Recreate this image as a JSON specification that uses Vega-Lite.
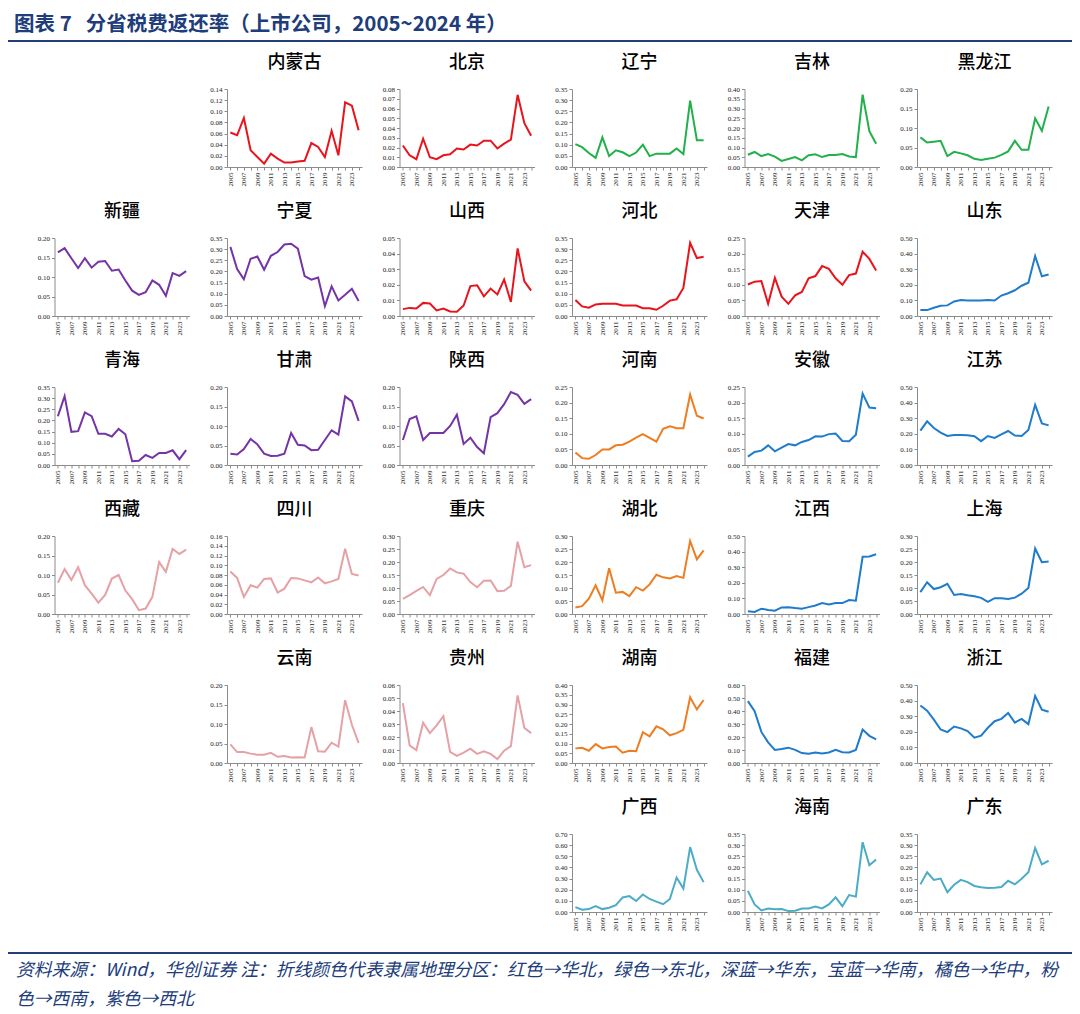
{
"$schema":"https://vega.github.io/schema/vega-lite/v6.json",
"background":"white",
"padding":{"left":8,"top":14,"right":5,"bottom":2},
"columns":1,
"spacing":8,
"datasets":{
"nmg":[{"year":"2005","v":0.062},{"year":"2006","v":0.057},{"year":"2007","v":0.088},{"year":"2008","v":0.030},{"year":"2009","v":0.018},{"year":"2010","v":0.006},{"year":"2011","v":0.024},{"year":"2012","v":0.015},{"year":"2013","v":0.008},{"year":"2014","v":0.008},{"year":"2015","v":0.010},{"year":"2016","v":0.011},{"year":"2017","v":0.043},{"year":"2018","v":0.036},{"year":"2019","v":0.018},{"year":"2020","v":0.065},{"year":"2021","v":0.021},{"year":"2022","v":0.116},{"year":"2023","v":0.110},{"year":"2024","v":0.066}],
"bj":[{"year":"2005","v":0.022},{"year":"2006","v":0.012},{"year":"2007","v":0.008},{"year":"2008","v":0.029},{"year":"2009","v":0.010},{"year":"2010","v":0.008},{"year":"2011","v":0.012},{"year":"2012","v":0.013},{"year":"2013","v":0.019},{"year":"2014","v":0.018},{"year":"2015","v":0.023},{"year":"2016","v":0.022},{"year":"2017","v":0.027},{"year":"2018","v":0.027},{"year":"2019","v":0.019},{"year":"2020","v":0.024},{"year":"2021","v":0.028},{"year":"2022","v":0.074},{"year":"2023","v":0.045},{"year":"2024","v":0.032}],
"ln":[{"year":"2005","v":0.103},{"year":"2006","v":0.089},{"year":"2007","v":0.063},{"year":"2008","v":0.041},{"year":"2009","v":0.133},{"year":"2010","v":0.049},{"year":"2011","v":0.075},{"year":"2012","v":0.066},{"year":"2013","v":0.049},{"year":"2014","v":0.065},{"year":"2015","v":0.100},{"year":"2016","v":0.049},{"year":"2017","v":0.060},{"year":"2018","v":0.060},{"year":"2019","v":0.060},{"year":"2020","v":0.083},{"year":"2021","v":0.058},{"year":"2022","v":0.298},{"year":"2023","v":0.120},{"year":"2024","v":0.120}],
"jl":[{"year":"2005","v":0.063},{"year":"2006","v":0.077},{"year":"2007","v":0.056},{"year":"2008","v":0.066},{"year":"2009","v":0.053},{"year":"2010","v":0.031},{"year":"2011","v":0.041},{"year":"2012","v":0.051},{"year":"2013","v":0.034},{"year":"2014","v":0.060},{"year":"2015","v":0.065},{"year":"2016","v":0.051},{"year":"2017","v":0.061},{"year":"2018","v":0.061},{"year":"2019","v":0.066},{"year":"2020","v":0.054},{"year":"2021","v":0.051},{"year":"2022","v":0.371},{"year":"2023","v":0.184},{"year":"2024","v":0.119}],
"hlj":[{"year":"2005","v":0.076},{"year":"2006","v":0.063},{"year":"2007","v":0.065},{"year":"2008","v":0.067},{"year":"2009","v":0.028},{"year":"2010","v":0.039},{"year":"2011","v":0.035},{"year":"2012","v":0.030},{"year":"2013","v":0.021},{"year":"2014","v":0.018},{"year":"2015","v":0.021},{"year":"2016","v":0.024},{"year":"2017","v":0.031},{"year":"2018","v":0.040},{"year":"2019","v":0.067},{"year":"2020","v":0.044},{"year":"2021","v":0.044},{"year":"2022","v":0.125},{"year":"2023","v":0.093},{"year":"2024","v":0.155}],
"xj":[{"year":"2005","v":0.163},{"year":"2006","v":0.174},{"year":"2007","v":0.148},{"year":"2008","v":0.123},{"year":"2009","v":0.148},{"year":"2010","v":0.124},{"year":"2011","v":0.139},{"year":"2012","v":0.141},{"year":"2013","v":0.116},{"year":"2014","v":0.119},{"year":"2015","v":0.091},{"year":"2016","v":0.065},{"year":"2017","v":0.054},{"year":"2018","v":0.061},{"year":"2019","v":0.091},{"year":"2020","v":0.080},{"year":"2021","v":0.052},{"year":"2022","v":0.110},{"year":"2023","v":0.103},{"year":"2024","v":0.115}],
"nx":[{"year":"2005","v":0.310},{"year":"2006","v":0.211},{"year":"2007","v":0.165},{"year":"2008","v":0.257},{"year":"2009","v":0.267},{"year":"2010","v":0.208},{"year":"2011","v":0.270},{"year":"2012","v":0.287},{"year":"2013","v":0.321},{"year":"2014","v":0.324},{"year":"2015","v":0.302},{"year":"2016","v":0.179},{"year":"2017","v":0.163},{"year":"2018","v":0.173},{"year":"2019","v":0.044},{"year":"2020","v":0.133},{"year":"2021","v":0.070},{"year":"2022","v":0.095},{"year":"2023","v":0.122},{"year":"2024","v":0.067}],
"sx":[{"year":"2005","v":0.0044},{"year":"2006","v":0.0052},{"year":"2007","v":0.0048},{"year":"2008","v":0.0084},{"year":"2009","v":0.0080},{"year":"2010","v":0.0036},{"year":"2011","v":0.0048},{"year":"2012","v":0.0029},{"year":"2013","v":0.0027},{"year":"2014","v":0.0067},{"year":"2015","v":0.0192},{"year":"2016","v":0.0197},{"year":"2017","v":0.0126},{"year":"2018","v":0.0176},{"year":"2019","v":0.0138},{"year":"2020","v":0.0234},{"year":"2021","v":0.0090},{"year":"2022","v":0.0433},{"year":"2023","v":0.0222},{"year":"2024","v":0.0163}],
"hb":[{"year":"2005","v":0.072},{"year":"2006","v":0.043},{"year":"2007","v":0.037},{"year":"2008","v":0.052},{"year":"2009","v":0.055},{"year":"2010","v":0.055},{"year":"2011","v":0.055},{"year":"2012","v":0.047},{"year":"2013","v":0.047},{"year":"2014","v":0.047},{"year":"2015","v":0.035},{"year":"2016","v":0.035},{"year":"2017","v":0.028},{"year":"2018","v":0.046},{"year":"2019","v":0.069},{"year":"2020","v":0.075},{"year":"2021","v":0.126},{"year":"2022","v":0.328},{"year":"2023","v":0.260},{"year":"2024","v":0.266}],
"tj":[{"year":"2005","v":0.101},{"year":"2006","v":0.110},{"year":"2007","v":0.112},{"year":"2008","v":0.039},{"year":"2009","v":0.122},{"year":"2010","v":0.062},{"year":"2011","v":0.039},{"year":"2012","v":0.066},{"year":"2013","v":0.077},{"year":"2014","v":0.121},{"year":"2015","v":0.128},{"year":"2016","v":0.160},{"year":"2017","v":0.151},{"year":"2018","v":0.121},{"year":"2019","v":0.100},{"year":"2020","v":0.131},{"year":"2021","v":0.136},{"year":"2022","v":0.206},{"year":"2023","v":0.183},{"year":"2024","v":0.146}],
"sd":[{"year":"2005","v":0.038},{"year":"2006","v":0.038},{"year":"2007","v":0.053},{"year":"2008","v":0.065},{"year":"2009","v":0.068},{"year":"2010","v":0.093},{"year":"2011","v":0.103},{"year":"2012","v":0.099},{"year":"2013","v":0.099},{"year":"2014","v":0.099},{"year":"2015","v":0.103},{"year":"2016","v":0.099},{"year":"2017","v":0.131},{"year":"2018","v":0.146},{"year":"2019","v":0.165},{"year":"2020","v":0.194},{"year":"2021","v":0.213},{"year":"2022","v":0.384},{"year":"2023","v":0.255},{"year":"2024","v":0.266}],
"qh":[{"year":"2005","v":0.219},{"year":"2006","v":0.309},{"year":"2007","v":0.149},{"year":"2008","v":0.152},{"year":"2009","v":0.236},{"year":"2010","v":0.219},{"year":"2011","v":0.140},{"year":"2012","v":0.140},{"year":"2013","v":0.128},{"year":"2014","v":0.162},{"year":"2015","v":0.138},{"year":"2016","v":0.017},{"year":"2017","v":0.019},{"year":"2018","v":0.045},{"year":"2019","v":0.032},{"year":"2020","v":0.054},{"year":"2021","v":0.054},{"year":"2022","v":0.066},{"year":"2023","v":0.026},{"year":"2024","v":0.067}],
"gs":[{"year":"2005","v":0.029},{"year":"2006","v":0.027},{"year":"2007","v":0.041},{"year":"2008","v":0.067},{"year":"2009","v":0.053},{"year":"2010","v":0.029},{"year":"2011","v":0.023},{"year":"2012","v":0.024},{"year":"2013","v":0.029},{"year":"2014","v":0.082},{"year":"2015","v":0.052},{"year":"2016","v":0.050},{"year":"2017","v":0.038},{"year":"2018","v":0.039},{"year":"2019","v":0.064},{"year":"2020","v":0.089},{"year":"2021","v":0.078},{"year":"2022","v":0.176},{"year":"2023","v":0.163},{"year":"2024","v":0.113}],
"shx":[{"year":"2005","v":0.064},{"year":"2006","v":0.118},{"year":"2007","v":0.125},{"year":"2008","v":0.064},{"year":"2009","v":0.082},{"year":"2010","v":0.082},{"year":"2011","v":0.082},{"year":"2012","v":0.100},{"year":"2013","v":0.129},{"year":"2014","v":0.054},{"year":"2015","v":0.070},{"year":"2016","v":0.046},{"year":"2017","v":0.030},{"year":"2018","v":0.123},{"year":"2019","v":0.133},{"year":"2020","v":0.156},{"year":"2021","v":0.187},{"year":"2022","v":0.180},{"year":"2023","v":0.157},{"year":"2024","v":0.169}],
"hn":[{"year":"2005","v":0.040},{"year":"2006","v":0.022},{"year":"2007","v":0.020},{"year":"2008","v":0.032},{"year":"2009","v":0.050},{"year":"2010","v":0.050},{"year":"2011","v":0.063},{"year":"2012","v":0.065},{"year":"2013","v":0.075},{"year":"2014","v":0.088},{"year":"2015","v":0.099},{"year":"2016","v":0.087},{"year":"2017","v":0.075},{"year":"2018","v":0.116},{"year":"2019","v":0.124},{"year":"2020","v":0.118},{"year":"2021","v":0.118},{"year":"2022","v":0.226},{"year":"2023","v":0.158},{"year":"2024","v":0.149}],
"ah":[{"year":"2005","v":0.027},{"year":"2006","v":0.042},{"year":"2007","v":0.046},{"year":"2008","v":0.063},{"year":"2009","v":0.044},{"year":"2010","v":0.056},{"year":"2011","v":0.067},{"year":"2012","v":0.063},{"year":"2013","v":0.074},{"year":"2014","v":0.080},{"year":"2015","v":0.092},{"year":"2016","v":0.091},{"year":"2017","v":0.099},{"year":"2018","v":0.101},{"year":"2019","v":0.077},{"year":"2020","v":0.076},{"year":"2021","v":0.097},{"year":"2022","v":0.229},{"year":"2023","v":0.184},{"year":"2024","v":0.182}],
"js":[{"year":"2005","v":0.220},{"year":"2006","v":0.280},{"year":"2007","v":0.237},{"year":"2008","v":0.208},{"year":"2009","v":0.186},{"year":"2010","v":0.193},{"year":"2011","v":0.193},{"year":"2012","v":0.191},{"year":"2013","v":0.184},{"year":"2014","v":0.153},{"year":"2015","v":0.186},{"year":"2016","v":0.174},{"year":"2017","v":0.197},{"year":"2018","v":0.218},{"year":"2019","v":0.189},{"year":"2020","v":0.186},{"year":"2021","v":0.225},{"year":"2022","v":0.386},{"year":"2023","v":0.267},{"year":"2024","v":0.254}],
"xz":[{"year":"2005","v":0.080},{"year":"2006","v":0.115},{"year":"2007","v":0.087},{"year":"2008","v":0.120},{"year":"2009","v":0.074},{"year":"2010","v":0.052},{"year":"2011","v":0.029},{"year":"2012","v":0.049},{"year":"2013","v":0.091},{"year":"2014","v":0.100},{"year":"2015","v":0.060},{"year":"2016","v":0.038},{"year":"2017","v":0.010},{"year":"2018","v":0.014},{"year":"2019","v":0.044},{"year":"2020","v":0.133},{"year":"2021","v":0.108},{"year":"2022","v":0.167},{"year":"2023","v":0.154},{"year":"2024","v":0.165}],
"sc":[{"year":"2005","v":0.087},{"year":"2006","v":0.074},{"year":"2007","v":0.035},{"year":"2008","v":0.059},{"year":"2009","v":0.054},{"year":"2010","v":0.072},{"year":"2011","v":0.073},{"year":"2012","v":0.044},{"year":"2013","v":0.052},{"year":"2014","v":0.074},{"year":"2015","v":0.073},{"year":"2016","v":0.069},{"year":"2017","v":0.065},{"year":"2018","v":0.075},{"year":"2019","v":0.063},{"year":"2020","v":0.067},{"year":"2021","v":0.072},{"year":"2022","v":0.134},{"year":"2023","v":0.082},{"year":"2024","v":0.079}],
"cq":[{"year":"2005","v":0.058},{"year":"2006","v":0.073},{"year":"2007","v":0.089},{"year":"2008","v":0.104},{"year":"2009","v":0.073},{"year":"2010","v":0.135},{"year":"2011","v":0.150},{"year":"2012","v":0.175},{"year":"2013","v":0.160},{"year":"2014","v":0.155},{"year":"2015","v":0.123},{"year":"2016","v":0.103},{"year":"2017","v":0.128},{"year":"2018","v":0.129},{"year":"2019","v":0.088},{"year":"2020","v":0.089},{"year":"2021","v":0.108},{"year":"2022","v":0.278},{"year":"2023","v":0.180},{"year":"2024","v":0.188}],
"hub":[{"year":"2005","v":0.025},{"year":"2006","v":0.030},{"year":"2007","v":0.059},{"year":"2008","v":0.110},{"year":"2009","v":0.053},{"year":"2010","v":0.176},{"year":"2011","v":0.082},{"year":"2012","v":0.085},{"year":"2013","v":0.069},{"year":"2014","v":0.103},{"year":"2015","v":0.090},{"year":"2016","v":0.114},{"year":"2017","v":0.151},{"year":"2018","v":0.141},{"year":"2019","v":0.137},{"year":"2020","v":0.146},{"year":"2021","v":0.139},{"year":"2022","v":0.281},{"year":"2023","v":0.210},{"year":"2024","v":0.245}],
"jx":[{"year":"2005","v":0.017},{"year":"2006","v":0.013},{"year":"2007","v":0.034},{"year":"2008","v":0.025},{"year":"2009","v":0.021},{"year":"2010","v":0.042},{"year":"2011","v":0.044},{"year":"2012","v":0.038},{"year":"2013","v":0.034},{"year":"2014","v":0.044},{"year":"2015","v":0.055},{"year":"2016","v":0.070},{"year":"2017","v":0.061},{"year":"2018","v":0.070},{"year":"2019","v":0.070},{"year":"2020","v":0.089},{"year":"2021","v":0.085},{"year":"2022","v":0.367},{"year":"2023","v":0.369},{"year":"2024","v":0.383}],
"sh":[{"year":"2005","v":0.084},{"year":"2006","v":0.122},{"year":"2007","v":0.096},{"year":"2008","v":0.103},{"year":"2009","v":0.116},{"year":"2010","v":0.073},{"year":"2011","v":0.077},{"year":"2012","v":0.072},{"year":"2013","v":0.068},{"year":"2014","v":0.062},{"year":"2015","v":0.047},{"year":"2016","v":0.061},{"year":"2017","v":0.061},{"year":"2018","v":0.058},{"year":"2019","v":0.063},{"year":"2020","v":0.078},{"year":"2021","v":0.100},{"year":"2022","v":0.252},{"year":"2023","v":0.199},{"year":"2024","v":0.202}],
"yn":[{"year":"2005","v":0.048},{"year":"2006","v":0.028},{"year":"2007","v":0.028},{"year":"2008","v":0.024},{"year":"2009","v":0.021},{"year":"2010","v":0.021},{"year":"2011","v":0.026},{"year":"2012","v":0.016},{"year":"2013","v":0.018},{"year":"2014","v":0.014},{"year":"2015","v":0.015},{"year":"2016","v":0.014},{"year":"2017","v":0.092},{"year":"2018","v":0.030},{"year":"2019","v":0.029},{"year":"2020","v":0.052},{"year":"2021","v":0.042},{"year":"2022","v":0.161},{"year":"2023","v":0.098},{"year":"2024","v":0.051}],
"gz":[{"year":"2005","v":0.046},{"year":"2006","v":0.0136},{"year":"2007","v":0.010},{"year":"2008","v":0.031},{"year":"2009","v":0.023},{"year":"2010","v":0.029},{"year":"2011","v":0.036},{"year":"2012","v":0.0085},{"year":"2013","v":0.0055},{"year":"2014","v":0.008},{"year":"2015","v":0.011},{"year":"2016","v":0.007},{"year":"2017","v":0.009},{"year":"2018","v":0.007},{"year":"2019","v":0.003},{"year":"2020","v":0.0095},{"year":"2021","v":0.013},{"year":"2022","v":0.052},{"year":"2023","v":0.027},{"year":"2024","v":0.023}],
"hun":[{"year":"2005","v":0.075},{"year":"2006","v":0.078},{"year":"2007","v":0.063},{"year":"2008","v":0.097},{"year":"2009","v":0.075},{"year":"2010","v":0.082},{"year":"2011","v":0.085},{"year":"2012","v":0.053},{"year":"2013","v":0.063},{"year":"2014","v":0.060},{"year":"2015","v":0.158},{"year":"2016","v":0.137},{"year":"2017","v":0.188},{"year":"2018","v":0.173},{"year":"2019","v":0.142},{"year":"2020","v":0.153},{"year":"2021","v":0.170},{"year":"2022","v":0.337},{"year":"2023","v":0.275},{"year":"2024","v":0.323}],
"fj":[{"year":"2005","v":0.476},{"year":"2006","v":0.398},{"year":"2007","v":0.239},{"year":"2008","v":0.159},{"year":"2009","v":0.101},{"year":"2010","v":0.108},{"year":"2011","v":0.118},{"year":"2012","v":0.101},{"year":"2013","v":0.076},{"year":"2014","v":0.071},{"year":"2015","v":0.081},{"year":"2016","v":0.073},{"year":"2017","v":0.081},{"year":"2018","v":0.101},{"year":"2019","v":0.083},{"year":"2020","v":0.081},{"year":"2021","v":0.101},{"year":"2022","v":0.257},{"year":"2023","v":0.209},{"year":"2024","v":0.181}],
"zj":[{"year":"2005","v":0.369},{"year":"2006","v":0.335},{"year":"2007","v":0.278},{"year":"2008","v":0.215},{"year":"2009","v":0.198},{"year":"2010","v":0.234},{"year":"2011","v":0.222},{"year":"2012","v":0.205},{"year":"2013","v":0.162},{"year":"2014","v":0.175},{"year":"2015","v":0.226},{"year":"2016","v":0.268},{"year":"2017","v":0.283},{"year":"2018","v":0.321},{"year":"2019","v":0.259},{"year":"2020","v":0.283},{"year":"2021","v":0.249},{"year":"2022","v":0.430},{"year":"2023","v":0.342},{"year":"2024","v":0.329}],
"gx":[{"year":"2005","v":0.044},{"year":"2006","v":0.020},{"year":"2007","v":0.026},{"year":"2008","v":0.052},{"year":"2009","v":0.026},{"year":"2010","v":0.038},{"year":"2011","v":0.061},{"year":"2012","v":0.131},{"year":"2013","v":0.143},{"year":"2014","v":0.099},{"year":"2015","v":0.157},{"year":"2016","v":0.117},{"year":"2017","v":0.093},{"year":"2018","v":0.070},{"year":"2019","v":0.117},{"year":"2020","v":0.309},{"year":"2021","v":0.210},{"year":"2022","v":0.583},{"year":"2023","v":0.379},{"year":"2024","v":0.268}],
"hain":[{"year":"2005","v":0.095},{"year":"2006","v":0.034},{"year":"2007","v":0.007},{"year":"2008","v":0.016},{"year":"2009","v":0.012},{"year":"2010","v":0.013},{"year":"2011","v":0.004},{"year":"2012","v":0.006},{"year":"2013","v":0.016},{"year":"2014","v":0.016},{"year":"2015","v":0.025},{"year":"2016","v":0.016},{"year":"2017","v":0.034},{"year":"2018","v":0.066},{"year":"2019","v":0.026},{"year":"2020","v":0.076},{"year":"2021","v":0.069},{"year":"2022","v":0.313},{"year":"2023","v":0.210},{"year":"2024","v":0.236}],
"gd":[{"year":"2005","v":0.124},{"year":"2006","v":0.178},{"year":"2007","v":0.144},{"year":"2008","v":0.150},{"year":"2009","v":0.089},{"year":"2010","v":0.122},{"year":"2011","v":0.144},{"year":"2012","v":0.134},{"year":"2013","v":0.117},{"year":"2014","v":0.111},{"year":"2015","v":0.108},{"year":"2016","v":0.109},{"year":"2017","v":0.112},{"year":"2018","v":0.140},{"year":"2019","v":0.124},{"year":"2020","v":0.149},{"year":"2021","v":0.178},{"year":"2022","v":0.287},{"year":"2023","v":0.214},{"year":"2024","v":0.230}]
},
"concat":[
{"width":1064,"height":2,"view":{"fill":"#203C7A","stroke":null},"title":{"text":"图表 7\u00a0\u00a0\u00a0分省税费返还率（上市公司，2005~2024 年）","anchor":"start","fontSize":20.5,"fontWeight":"bold","color":"#203C7A","offset":0,"dx":6},"data":{"values":[{}]},"mark":{"type":"text","text":""},"encoding":{}},
{"columns":7,"spacing":{"row":17,"column":12.5},"concat":[
{"width":9.5,"height":78,"data":{"values":[{}]},"mark":{"type":"text","text":""},"encoding":{}},
{"width":135,"height":78,"data":{"values":[{}]},"mark":{"type":"text","text":""},"encoding":{}},
{"title":"内蒙古","width":135,"height":78,"data":{"name":"nmg"},"mark":{"type":"line","color":"#E8141C"},"encoding":{"x":{"field":"year","type":"ordinal","axis":{"title":null}},"y":{"field":"v","type":"quantitative","scale":{"domain":[0,0.14],"nice":false},"axis":{"title":null,"values":[0,0.02,0.04,0.06,0.08,0.1,0.12,0.14]}}}},
{"title":"北京","width":135,"height":78,"data":{"name":"bj"},"mark":{"type":"line","color":"#E8141C"},"encoding":{"x":{"field":"year","type":"ordinal","axis":{"title":null}},"y":{"field":"v","type":"quantitative","scale":{"domain":[0,0.08],"nice":false},"axis":{"title":null,"values":[0,0.01,0.02,0.03,0.04,0.05,0.06,0.07,0.08]}}}},
{"title":"辽宁","width":135,"height":78,"data":{"name":"ln"},"mark":{"type":"line","color":"#22B04B"},"encoding":{"x":{"field":"year","type":"ordinal","axis":{"title":null}},"y":{"field":"v","type":"quantitative","scale":{"domain":[0,0.35],"nice":false},"axis":{"title":null,"values":[0,0.05,0.1,0.15,0.2,0.25,0.3,0.35]}}}},
{"title":"吉林","width":135,"height":78,"data":{"name":"jl"},"mark":{"type":"line","color":"#22B04B"},"encoding":{"x":{"field":"year","type":"ordinal","axis":{"title":null}},"y":{"field":"v","type":"quantitative","scale":{"domain":[0,0.4],"nice":false},"axis":{"title":null,"values":[0,0.05,0.1,0.15,0.2,0.25,0.3,0.35,0.4]}}}},
{"title":"黑龙江","width":135,"height":78,"data":{"name":"hlj"},"mark":{"type":"line","color":"#22B04B"},"encoding":{"x":{"field":"year","type":"ordinal","axis":{"title":null}},"y":{"field":"v","type":"quantitative","scale":{"domain":[0,0.2],"nice":false},"axis":{"title":null,"values":[0,0.05,0.1,0.15,0.2]}}}},
{"width":9.5,"height":78,"data":{"values":[{}]},"mark":{"type":"text","text":""},"encoding":{}},
{"title":"新疆","width":135,"height":78,"data":{"name":"xj"},"mark":{"type":"line","color":"#7434A6"},"encoding":{"x":{"field":"year","type":"ordinal","axis":{"title":null}},"y":{"field":"v","type":"quantitative","scale":{"domain":[0,0.2],"nice":false},"axis":{"title":null,"values":[0,0.05,0.1,0.15,0.2]}}}},
{"title":"宁夏","width":135,"height":78,"data":{"name":"nx"},"mark":{"type":"line","color":"#7434A6"},"encoding":{"x":{"field":"year","type":"ordinal","axis":{"title":null}},"y":{"field":"v","type":"quantitative","scale":{"domain":[0,0.35],"nice":false},"axis":{"title":null,"values":[0,0.05,0.1,0.15,0.2,0.25,0.3,0.35]}}}},
{"title":"山西","width":135,"height":78,"data":{"name":"sx"},"mark":{"type":"line","color":"#E8141C"},"encoding":{"x":{"field":"year","type":"ordinal","axis":{"title":null}},"y":{"field":"v","type":"quantitative","scale":{"domain":[0,0.05],"nice":false},"axis":{"title":null,"values":[0,0.01,0.02,0.03,0.04,0.05]}}}},
{"title":"河北","width":135,"height":78,"data":{"name":"hb"},"mark":{"type":"line","color":"#E8141C"},"encoding":{"x":{"field":"year","type":"ordinal","axis":{"title":null}},"y":{"field":"v","type":"quantitative","scale":{"domain":[0,0.35],"nice":false},"axis":{"title":null,"values":[0,0.05,0.1,0.15,0.2,0.25,0.3,0.35]}}}},
{"title":"天津","width":135,"height":78,"data":{"name":"tj"},"mark":{"type":"line","color":"#E8141C"},"encoding":{"x":{"field":"year","type":"ordinal","axis":{"title":null}},"y":{"field":"v","type":"quantitative","scale":{"domain":[0,0.25],"nice":false},"axis":{"title":null,"values":[0,0.05,0.1,0.15,0.2,0.25]}}}},
{"title":"山东","width":135,"height":78,"data":{"name":"sd"},"mark":{"type":"line","color":"#1F7BCB"},"encoding":{"x":{"field":"year","type":"ordinal","axis":{"title":null}},"y":{"field":"v","type":"quantitative","scale":{"domain":[0,0.5],"nice":false},"axis":{"title":null,"values":[0,0.1,0.2,0.3,0.4,0.5]}}}},
{"width":9.5,"height":78,"data":{"values":[{}]},"mark":{"type":"text","text":""},"encoding":{}},
{"title":"青海","width":135,"height":78,"data":{"name":"qh"},"mark":{"type":"line","color":"#7434A6"},"encoding":{"x":{"field":"year","type":"ordinal","axis":{"title":null}},"y":{"field":"v","type":"quantitative","scale":{"domain":[0,0.35],"nice":false},"axis":{"title":null,"values":[0,0.05,0.1,0.15,0.2,0.25,0.3,0.35]}}}},
{"title":"甘肃","width":135,"height":78,"data":{"name":"gs"},"mark":{"type":"line","color":"#7434A6"},"encoding":{"x":{"field":"year","type":"ordinal","axis":{"title":null}},"y":{"field":"v","type":"quantitative","scale":{"domain":[0,0.2],"nice":false},"axis":{"title":null,"values":[0,0.05,0.1,0.15,0.2]}}}},
{"title":"陕西","width":135,"height":78,"data":{"name":"shx"},"mark":{"type":"line","color":"#7434A6"},"encoding":{"x":{"field":"year","type":"ordinal","axis":{"title":null}},"y":{"field":"v","type":"quantitative","scale":{"domain":[0,0.2],"nice":false},"axis":{"title":null,"values":[0,0.05,0.1,0.15,0.2]}}}},
{"title":"河南","width":135,"height":78,"data":{"name":"hn"},"mark":{"type":"line","color":"#EE7D22"},"encoding":{"x":{"field":"year","type":"ordinal","axis":{"title":null}},"y":{"field":"v","type":"quantitative","scale":{"domain":[0,0.25],"nice":false},"axis":{"title":null,"values":[0,0.05,0.1,0.15,0.2,0.25]}}}},
{"title":"安徽","width":135,"height":78,"data":{"name":"ah"},"mark":{"type":"line","color":"#1F7BCB"},"encoding":{"x":{"field":"year","type":"ordinal","axis":{"title":null}},"y":{"field":"v","type":"quantitative","scale":{"domain":[0,0.25],"nice":false},"axis":{"title":null,"values":[0,0.05,0.1,0.15,0.2,0.25]}}}},
{"title":"江苏","width":135,"height":78,"data":{"name":"js"},"mark":{"type":"line","color":"#1F7BCB"},"encoding":{"x":{"field":"year","type":"ordinal","axis":{"title":null}},"y":{"field":"v","type":"quantitative","scale":{"domain":[0,0.5],"nice":false},"axis":{"title":null,"values":[0,0.1,0.2,0.3,0.4,0.5]}}}},
{"width":9.5,"height":78,"data":{"values":[{}]},"mark":{"type":"text","text":""},"encoding":{}},
{"title":"西藏","width":135,"height":78,"data":{"name":"xz"},"mark":{"type":"line","color":"#E6A1A6"},"encoding":{"x":{"field":"year","type":"ordinal","axis":{"title":null}},"y":{"field":"v","type":"quantitative","scale":{"domain":[0,0.2],"nice":false},"axis":{"title":null,"values":[0,0.05,0.1,0.15,0.2]}}}},
{"title":"四川","width":135,"height":78,"data":{"name":"sc"},"mark":{"type":"line","color":"#E6A1A6"},"encoding":{"x":{"field":"year","type":"ordinal","axis":{"title":null}},"y":{"field":"v","type":"quantitative","scale":{"domain":[0,0.16],"nice":false},"axis":{"title":null,"values":[0,0.02,0.04,0.06,0.08,0.1,0.12,0.14,0.16]}}}},
{"title":"重庆","width":135,"height":78,"data":{"name":"cq"},"mark":{"type":"line","color":"#E6A1A6"},"encoding":{"x":{"field":"year","type":"ordinal","axis":{"title":null}},"y":{"field":"v","type":"quantitative","scale":{"domain":[0,0.3],"nice":false},"axis":{"title":null,"values":[0,0.05,0.1,0.15,0.2,0.25,0.3]}}}},
{"title":"湖北","width":135,"height":78,"data":{"name":"hub"},"mark":{"type":"line","color":"#EE7D22"},"encoding":{"x":{"field":"year","type":"ordinal","axis":{"title":null}},"y":{"field":"v","type":"quantitative","scale":{"domain":[0,0.3],"nice":false},"axis":{"title":null,"values":[0,0.05,0.1,0.15,0.2,0.25,0.3]}}}},
{"title":"江西","width":135,"height":78,"data":{"name":"jx"},"mark":{"type":"line","color":"#1F7BCB"},"encoding":{"x":{"field":"year","type":"ordinal","axis":{"title":null}},"y":{"field":"v","type":"quantitative","scale":{"domain":[0,0.5],"nice":false},"axis":{"title":null,"values":[0,0.1,0.2,0.3,0.4,0.5]}}}},
{"title":"上海","width":135,"height":78,"data":{"name":"sh"},"mark":{"type":"line","color":"#1F7BCB"},"encoding":{"x":{"field":"year","type":"ordinal","axis":{"title":null}},"y":{"field":"v","type":"quantitative","scale":{"domain":[0,0.3],"nice":false},"axis":{"title":null,"values":[0,0.05,0.1,0.15,0.2,0.25,0.3]}}}},
{"width":9.5,"height":78,"data":{"values":[{}]},"mark":{"type":"text","text":""},"encoding":{}},
{"width":135,"height":78,"data":{"values":[{}]},"mark":{"type":"text","text":""},"encoding":{}},
{"title":"云南","width":135,"height":78,"data":{"name":"yn"},"mark":{"type":"line","color":"#E6A1A6"},"encoding":{"x":{"field":"year","type":"ordinal","axis":{"title":null}},"y":{"field":"v","type":"quantitative","scale":{"domain":[0,0.2],"nice":false},"axis":{"title":null,"values":[0,0.05,0.1,0.15,0.2]}}}},
{"title":"贵州","width":135,"height":78,"data":{"name":"gz"},"mark":{"type":"line","color":"#E6A1A6"},"encoding":{"x":{"field":"year","type":"ordinal","axis":{"title":null}},"y":{"field":"v","type":"quantitative","scale":{"domain":[0,0.06],"nice":false},"axis":{"title":null,"values":[0,0.01,0.02,0.03,0.04,0.05,0.06]}}}},
{"title":"湖南","width":135,"height":78,"data":{"name":"hun"},"mark":{"type":"line","color":"#EE7D22"},"encoding":{"x":{"field":"year","type":"ordinal","axis":{"title":null}},"y":{"field":"v","type":"quantitative","scale":{"domain":[0,0.4],"nice":false},"axis":{"title":null,"values":[0,0.05,0.1,0.15,0.2,0.25,0.3,0.35,0.4]}}}},
{"title":"福建","width":135,"height":78,"data":{"name":"fj"},"mark":{"type":"line","color":"#1F7BCB"},"encoding":{"x":{"field":"year","type":"ordinal","axis":{"title":null}},"y":{"field":"v","type":"quantitative","scale":{"domain":[0,0.6],"nice":false},"axis":{"title":null,"values":[0,0.1,0.2,0.3,0.4,0.5,0.6]}}}},
{"title":"浙江","width":135,"height":78,"data":{"name":"zj"},"mark":{"type":"line","color":"#1F7BCB"},"encoding":{"x":{"field":"year","type":"ordinal","axis":{"title":null}},"y":{"field":"v","type":"quantitative","scale":{"domain":[0,0.5],"nice":false},"axis":{"title":null,"values":[0,0.1,0.2,0.3,0.4,0.5]}}}},
{"width":9.5,"height":78,"data":{"values":[{}]},"mark":{"type":"text","text":""},"encoding":{}},
{"width":135,"height":78,"data":{"values":[{}]},"mark":{"type":"text","text":""},"encoding":{}},
{"width":135,"height":78,"data":{"values":[{}]},"mark":{"type":"text","text":""},"encoding":{}},
{"width":135,"height":78,"data":{"values":[{}]},"mark":{"type":"text","text":""},"encoding":{}},
{"title":"广西","width":135,"height":78,"data":{"name":"gx"},"mark":{"type":"line","color":"#4BACC6"},"encoding":{"x":{"field":"year","type":"ordinal","axis":{"title":null,"minExtent":27,"maxExtent":27}},"y":{"field":"v","type":"quantitative","scale":{"domain":[0,0.7],"nice":false},"axis":{"title":null,"values":[0,0.1,0.2,0.3,0.4,0.5,0.6,0.7]}}}},
{"title":"海南","width":135,"height":78,"data":{"name":"hain"},"mark":{"type":"line","color":"#4BACC6"},"encoding":{"x":{"field":"year","type":"ordinal","axis":{"title":null,"minExtent":27,"maxExtent":27}},"y":{"field":"v","type":"quantitative","scale":{"domain":[0,0.35],"nice":false},"axis":{"title":null,"values":[0,0.05,0.1,0.15,0.2,0.25,0.3,0.35]}}}},
{"title":"广东","width":135,"height":78,"data":{"name":"gd"},"mark":{"type":"line","color":"#4BACC6"},"encoding":{"x":{"field":"year","type":"ordinal","axis":{"title":null,"minExtent":27,"maxExtent":27}},"y":{"field":"v","type":"quantitative","scale":{"domain":[0,0.35],"nice":false},"axis":{"title":null,"values":[0,0.05,0.1,0.15,0.2,0.25,0.3,0.35]}}}}
]},
{"width":1064,"height":2,"view":{"fill":"#203C7A","stroke":null},"title":{"text":["资料来源：Wind，华创证券 注：折线颜色代表隶属地理分区：红色→华北，绿色→东北，深蓝→华东，宝蓝→华南，橘色→华中，粉","色→西南，紫色→西北"],"orient":"bottom","anchor":"start","fontSize":17.8,"fontWeight":"normal","fontStyle":"italic","color":"#203C7A","lineHeight":29,"offset":4,"dx":8},"data":{"values":[{}]},"mark":{"type":"text","text":""},"encoding":{}}
],
"config":{
"view":{"stroke":null},
"title":{"font":"Noto Sans CJK SC","fontSize":18,"fontWeight":500,"color":"#000000","offset":13,"anchor":"middle"},
"axis":{"labelFont":"Liberation Serif","labelFontSize":7,"labelColor":"#222222","domainColor":"#8c8c8c","tickColor":"#8c8c8c","tickSize":3,"grid":false,"labelOverlap":false},
"axisX":{"labelAngle":-90,"labelPadding":2,"minExtent":19,"maxExtent":19,"labelExpr":"toNumber(datum.value) % 2 == 1 ? datum.label : ''"},
"axisY":{"format":".2f","minExtent":24,"maxExtent":24,"labelPadding":2},
"line":{"strokeWidth":2}
}
}
